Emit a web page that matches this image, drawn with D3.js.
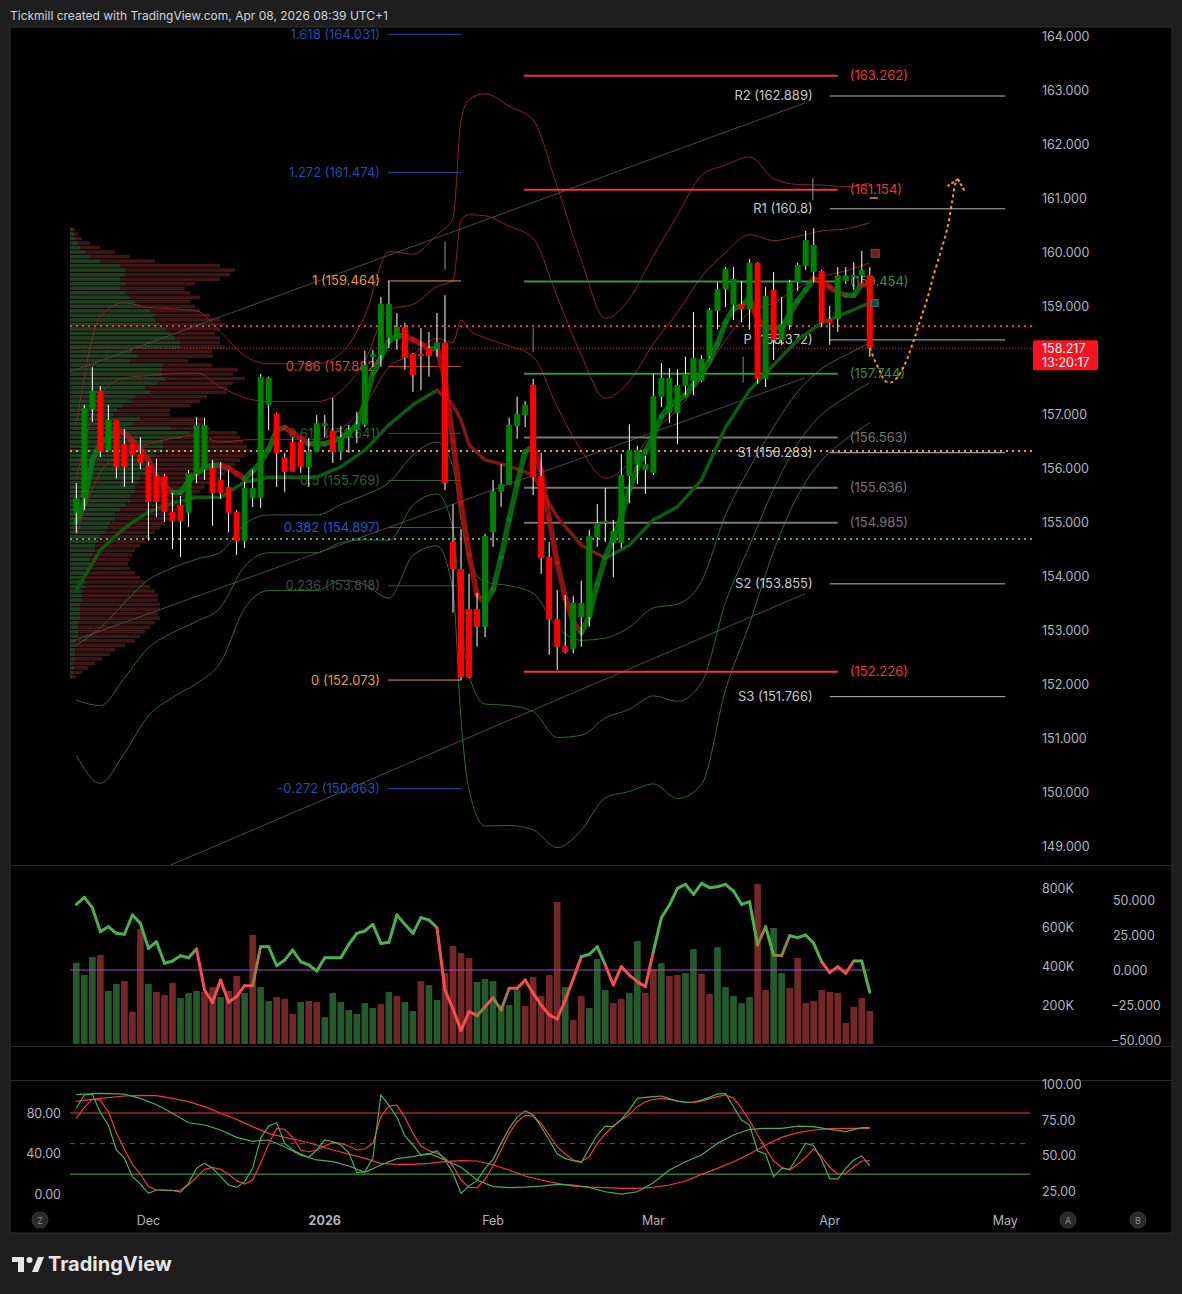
<!DOCTYPE html>
<html><head><meta charset="utf-8">
<script src="https://cdn.jsdelivr.net/npm/d3@7"></script>
<style>body{margin:0;background:#1e1e1e;}svg{display:block;font-family:Inter,"Liberation Sans",sans-serif;}</style>
</head><body><svg id="c" width="1182" height="1294"></svg>
<script>
// ---------------- DATA ----------------
const firstIdx = -9; // bar index of first candle (Dec 1 = 0)
const opens = [155.17,155.44,157.09,157.43,156.33,156.89,156.44,156.44,156.26,156.04,155.85,155.85,155.19,155.31,155.17,155.89,155.96,156.00,155.78,155.65,155.19,154.65,155.44,155.44,157.17,157.00,156.20,156.48,156.48,156.02,156.30,156.78,156.69,156.30,156.57,156.70,156.80,158.06,158.09,158.41,158.39,158.61,158.11,158.11,158.22,158.20,158.32,154.63,154.13,153.39,153.39,153.06,154.81,155.56,155.69,156.78,156.98,157.54,155.85,154.35,153.20,152.70,152.65,153.24,153.24,154.72,154.98,154.61,154.61,155.85,156.06,155.96,155.91,157.32,157.02,157.02,157.52,157.61,157.61,158.06,158.91,159.31,159.02,159.04,158.94,159.80,157.65,159.30,158.37,158.65,159.44,159.74,159.63,159.65,158.76,158.76,159.46,159.54,159.57,159.57];
const highs = [155.72,157.17,157.87,157.52,157.17,156.89,156.72,156.44,156.57,156.11,156.17,155.89,155.54,155.48,155.96,156.94,156.93,156.15,156.11,155.96,155.22,155.74,155.96,157.74,157.69,157.02,156.28,156.57,156.52,156.56,156.98,156.98,157.30,156.78,156.80,157.04,158.17,158.19,159.17,159.464,158.87,158.69,158.13,158.59,158.52,158.87,159.20,155.33,154.87,154.04,153.69,154.78,155.78,156.07,156.93,157.32,157.24,157.65,156.28,154.63,153.74,153.65,153.63,153.91,154.85,155.33,155.63,155.04,156.26,156.81,156.41,156.22,157.74,157.94,157.85,157.83,158.06,158.89,158.09,158.96,159.44,159.72,159.72,159.46,159.87,159.81,159.35,159.63,159.17,159.48,159.80,160.39,160.44,159.67,159.00,159.72,159.72,159.81,160.02,159.72];
const lows = [154.80,155.22,156.85,156.20,156.33,155.81,155.65,155.72,155.98,154.65,155.09,155.00,154.50,154.35,154.91,155.72,155.78,154.93,155.43,154.81,154.39,154.52,155.28,155.26,156.70,155.65,155.56,155.93,155.91,155.65,156.30,156.57,156.09,156.15,156.28,156.46,156.76,157.87,157.87,158.22,158.19,157.82,157.41,157.44,157.69,158.06,155.59,153.32,152.07,152.11,152.69,152.87,154.54,155.28,155.69,156.54,156.76,155.50,154.04,152.54,152.26,152.57,152.57,152.69,153.06,154.54,154.63,153.98,154.52,155.35,155.70,155.52,155.87,157.13,156.83,156.44,157.35,157.35,157.59,158.04,158.57,158.98,158.74,158.70,158.56,157.56,157.50,158.00,158.28,158.56,159.28,159.67,159.44,158.61,158.28,158.52,159.41,159.30,159.43,158.06];
const closes = [155.44,157.11,157.43,156.30,156.89,156.02,156.02,156.24,156.09,155.37,155.37,155.19,155.02,155.02,155.91,156.80,156.80,155.54,155.54,155.17,154.65,155.63,155.63,157.69,157.67,156.28,155.93,155.93,156.02,156.31,156.83,156.83,156.30,156.57,156.72,156.81,157.91,158.11,159.04,159.04,158.61,158.04,157.72,158.07,158.07,158.32,155.72,154.13,152.13,152.13,153.06,154.74,155.57,155.70,156.80,157.00,157.17,155.83,154.33,153.20,152.69,152.59,153.50,153.50,154.74,154.98,155.02,154.83,155.87,156.33,156.33,156.07,157.33,157.67,157.67,157.54,157.74,158.04,158.02,158.93,159.31,159.69,159.50,158.94,159.80,157.65,159.19,158.37,158.67,159.44,159.76,160.22,160.13,158.69,158.69,159.57,159.57,159.57,159.67,158.217];

// fast moving average (thick, coloured by direction)
const fastMA = [155.0,155.35,156.15,156.45,156.55,156.70,156.65,156.50,156.35,156.15,155.85,155.65,155.55,155.55,155.75,155.90,156.00,156.05,156.05,156.00,155.90,155.80,155.95,156.10,156.35,156.70,156.75,156.65,156.55,156.45,156.45,156.45,156.50,156.55,156.65,156.80,157.20,157.75,158.05,158.35,158.45,158.45,158.38,158.30,158.20,158.22,157.65,156.50,155.35,154.40,153.65,153.50,153.75,154.35,155.05,155.70,156.30,156.40,155.95,155.05,154.25,153.60,153.15,152.95,153.25,153.85,154.35,154.70,155.10,155.60,156.00,156.30,156.60,156.95,157.15,157.25,157.35,157.55,157.75,158.00,158.30,158.70,158.95,159.00,159.15,158.75,158.60,158.60,158.60,158.85,159.10,159.30,159.50,159.45,159.35,159.25,159.20,159.20,159.40,159.38];

// band basis (slow MA) and deviation, read at sampled bars
const bandIdx = [-9,-6,-3,0,3,6,9,12,15,18,21,24,27,30,33,36,38,39,40,42,45,48,51,54,57,60,63,66,69,72,75,78,81,84,87,90];
const bandMid = [153.74,154.48,154.89,155.19,155.35,155.46,155.46,155.74,155.83,155.83,155.83,156.02,156.33,156.80,157.17,157.44,157.17,156.89,156.43,156.15,156.04,155.87,155.09,154.57,154.33,154.57,155.04,155.28,155.78,156.75,157.44,157.91,158.37,158.69,158.87,159.06];
const bandDev = [1.02,1.44,1.39,1.26,1.20,1.15,1.02,0.78,0.70,0.70,0.70,0.70,0.83,1.07,0.93,0.96,1.15,1.85,2.13,2.26,2.22,2.19,2.04,1.76,1.48,1.52,1.63,1.80,1.88,1.62,1.44,1.15,0.96,0.85,0.78,0.74];
const bandMults = [1,2,3];

// volume profile (rows from top price to bottom price), lengths in profile units
const profTop = 160.45, profBottom = 152.08;
const profGreen = [3,4,6,8,10,15,20,30,50,55,55,50,55,50,55,60,65,70,80,85,85,90,95,100,105,110,110,62,68,60,92,92,92,95,87,75,80,65,62,53,47,43,70,63,100,120,112,93,93,93,85,80,80,75,75,70,68,65,65,60,60,55,50,45,45,40,38,35,30,28,25,25,22,20,20,18,18,15,15,15,12,12,12,10,10,10,10,8,8,8,8,6,6,5,5,5,4,4,3,2];
const profTotal = [5,8,12,20,30,45,60,85,150,165,160,150,125,115,120,130,120,125,130,140,150,155,150,145,150,150,155,142,143,118,142,168,163,175,163,157,157,137,130,120,100,100,133,133,140,167,170,173,177,180,175,170,165,160,155,150,140,135,130,125,120,115,110,105,100,95,90,85,80,75,70,65,62,60,58,60,65,70,75,80,85,88,88,90,90,88,90,85,80,75,70,65,55,45,40,32,25,18,12,6];

// volume (thousands) and its colour direction
const volumes = [417,354,446,456,272,308,323,166,590,308,267,251,313,236,262,272,267,292,241,272,349,262,559,292,221,241,231,154,215,221,215,138,262,215,174,154,210,185,205,267,246,215,169,323,303,226,364,503,467,441,318,333,323,200,200,277,195,344,246,354,728,292,123,246,185,436,277,210,231,262,528,262,385,415,349,354,364,487,359,256,497,292,246,210,241,821,277,595,364,287,441,210,221,277,267,262,108,190,236,169];
const volDir = "uuuduuddduddduuuddudduduudddudduuuuuuududuuduudddduuuuuudddddudduuudduuddudduudduuuuudduudddd";
// oscillator in volume pane
const osc = [46.9,51.9,44.5,27.4,30.9,26.2,25.5,39.3,33.3,15.5,20.2,4.8,6.4,10.2,8.8,15.0,-14.3,-23.1,-7.1,-23.1,-19.0,-11.2,-11.2,16.6,16.6,3.1,7.1,14.3,5.9,3.6,-0.7,8.8,8.8,8.8,18.3,26.2,27.9,32.6,19.0,19.8,39.3,32.6,26.2,37.4,35.7,30.2,-14.3,-27.9,-43.3,-29.8,-32.6,-26.2,-19.8,-28.6,-13.1,-13.1,-7.1,-16.7,-25.0,-32.1,-35.0,-21.4,-6.4,9.5,11.2,16.6,3.6,-10.7,2.4,-3.6,-8.3,-11.9,13.1,37.4,46.4,58.3,61.2,54.0,61.9,58.8,59.5,61.2,56.4,46.9,48.8,17.9,30.9,10.7,10.2,24.5,23.1,25.0,19.0,5.9,-1.9,2.4,-2.4,6.4,6.4,-15.9];
// colour of the segment ending at each bar (g green, r red, b brown)
const oscCol = "-gggggggggggggggrrrrrrrbggggggggggggggggggggggrrrrrbrbbrrrrrrrrrgggrrrrrrgggggggggggggbgbbggggrrrrggr";

// stochastic pane
const stochK = [84.6,97.7,98.6,80.3,68.2,43.7,35.5,17.5,10.3,1.1,4.4,4.4,4.0,2.4,10.9,25.7,30.6,25.7,17.5,9.3,7.0,12.6,25.7,55.1,67.2,70.4,50.2,43.7,39.7,36.5,43.7,53.5,51.8,48.6,41.0,21.4,22.4,35.5,97.7,87.8,75.7,57.4,48.6,38.7,39.7,43.0,33.9,20.8,1.0,8.3,13.6,25.7,34.5,50.2,64.9,75.7,82.3,78.0,66.6,53.5,39.7,35.2,33.2,31.3,45.3,58.4,67.2,66.6,73.7,83.0,94.4,95.3,96.0,96.7,94.1,91.7,90.4,90.8,92.7,95.3,98.6,99.3,86.2,73.1,68.2,43.0,39.7,17.5,25.7,24.7,37.1,50.2,48.2,33.9,15.6,15.2,25.7,33.9,37.8,28.0];
const stochD = [74.7,85.6,93.4,92.7,81.3,60.7,44.3,29.6,20.1,7.7,4.4,4.0,3.7,4.4,9.3,16.9,24.7,26.7,24.7,19.8,13.6,10.3,14.2,30.6,49.6,64.9,64.0,56.1,43.7,42.0,43.7,47.6,51.2,50.2,47.6,43.7,44.9,50.2,76.4,86.9,87.8,75.7,60.0,47.6,43.0,40.4,35.5,28.0,14.2,7.0,6.7,14.9,28.0,43.7,60.0,71.4,77.7,77.0,69.8,58.4,46.9,39.7,33.9,32.2,37.1,50.2,59.4,67.2,73.1,78.7,86.2,91.1,93.4,94.4,93.4,91.7,90.8,90.1,91.7,94.1,96.0,97.7,94.4,84.6,72.4,58.4,45.3,32.9,26.7,24.0,29.6,36.5,44.9,37.1,26.7,20.1,20.8,27.3,32.9,33.2];
const slowIdx = [-9,-6,-3,-1,1,3,5,7,9,11,13,15,17,19,21,23,25,27,29,31,33,35,37,39,41,43,45,47,49,51,53,55,57,59,61,63,65,67,69,71,73,75,77,79,81,83,85,87,89,90];
const slowK = [98.0,99.3,98.6,94.4,88.1,79.7,70.4,68.2,63.3,56.1,52.2,53.5,46.9,38.7,33.9,32.2,28.0,21.7,29.0,35.2,37.1,40.4,33.9,26.7,14.2,7.7,6.7,7.3,8.3,10.0,9.3,7.0,2.7,0.3,2.7,11.6,24.0,32.2,38.7,50.2,58.4,64.0,64.9,64.9,67.2,66.6,64.0,61.7,65.6,65.6];
const slowD = [91.4,94.4,96.7,97.3,97.0,94.4,91.1,86.2,79.7,73.7,66.6,60.0,56.1,52.8,48.6,43.7,39.7,35.5,30.6,29.6,29.6,30.6,32.2,33.2,32.9,29.0,24.0,18.2,14.2,10.9,8.3,7.3,6.7,6.0,6.0,7.0,9.3,13.2,19.8,25.7,32.2,39.7,48.6,56.1,60.7,63.3,64.6,64.9,64.9,64.9];

// axes / labels
const priceTicks = [149,150,151,152,153,154,155,156,157,158,159,160,161,162,163,164];
const timeLabels = ["Dec","2026","Feb","Mar","Apr","May"];
const timeIdx = [0,22,43,63,85,106.9];
const volTicks = [200,400,600,800];
const oscTicks = [50,25,0,-25,-50];
const stochLeftTicks = [80,40,0];
const stochRightTicks = [100,75,50,25];

// drawings
const fibLevels = ["1.618","1.272","1","0.786","0.618","0.5","0.382","0.236","0","-0.272"];
const fibPrices = [164.031,161.474,159.464,157.882,156.641,155.769,154.897,153.818,152.073,150.063];
const fibColors = ["#1f4fb0","#1f4fb0","#e89a2c","#d9463f","#2f5f2f","#365f36","#2458c8","#4a4a4a","#e89a2c","#1f4fb0"];
const fibRange = [29.9, 39.0];
const levelPrices = [163.262,161.154,159.454,157.744,156.563,155.636,154.985,152.226];
const levelColors = ["#f0333f","#f0333f","#3f8f3f","#3f8f3f","#777777","#777777","#777777","#f0333f"];
const levelRange = [46.86, 86.0];
const pivotNames = ["R2","R1","P","S1","S2","S3"];
const pivotPrices = [162.889,160.8,158.372,156.283,153.855,151.766];
const pivotLabels = ["162.889","160.8","158.372","156.283","153.855","151.766"];
const pivotRange = [85.0, 106.9];
const dottedPrices = [158.63,156.315,154.686];
const dottedColors = ["#f0333f","#f59a13","#4caf50"];
const lastPrice = 158.217;
const lastTime = "13:20:17";
const channelLines = [[[-9.79,157.78],[81.9,162.76]],[[-9.79,152.78],[81.9,157.67]],[[-9.79,147.85],[81.9,153.67]]];
const projection = [[90.0,158.22],[90.6,158.0],[91.3,157.78],[91.9,157.61],[92.8,157.59],[93.8,157.76],[94.6,158.0],[95.4,158.33],[96.3,158.74],[97.2,159.15],[97.9,159.54],[98.8,159.98],[99.7,160.46],[100.3,160.96],[100.7,161.28],[101.0,161.35]];
const arrowHead = [[[101.0,161.35],[101.9,161.11]],[[101.0,161.35],[99.7,161.22]]];
// thin vertical marks drawn on the chart [bar, price from, price to, colour]
const vMarks = [[37.0,160.19,159.67,"#9a9a9a"],[82.9,161.37,160.96,"#9a9a9a"],[48.0,158.59,158.15,"#8a8a8a"],[74.2,158.06,157.58,"#3aa58f"]];

// ---------------- SCALES ----------------
const svg = d3.select("#c");
const x = d3.scaleLinear().domain([-9, 90]).range([76.3, 869.8]);
const yP = d3.scaleLinear().domain([149, 164]).range([846, 36]);
const yV = d3.scaleLinear().domain([0, 800]).range([1044, 888]);
const yO = d3.scaleLinear().domain([-50, 50]).range([1040, 900]);
const yS = d3.scaleLinear().domain([0, 80]).range([1194.5, 1113]);
const yS2 = d3.scaleLinear().domain([25, 100]).range([1191, 1084.5]);
const xProf = d3.scaleLinear().domain([0, 175]).range([70, 245]);
const idx = d3.range(opens.length).map(i => i + firstIdx);
const FONT = 12.5, LBL = 13, TXT = "#b2b5be";

// ---------------- FRAME ----------------
svg.append("rect").attr("width",1182).attr("height",1294).attr("fill","#1e1e1e");
svg.append("rect").attr("x",10).attr("y",27).attr("width",1162).attr("height",1206).attr("fill","#000").attr("stroke","#303030");
svg.append("text").attr("x",10).attr("y",19.5).attr("fill","#d1d4dc").attr("font-size",12).text("Tickmill created with TradingView.com, Apr 08, 2026 08:39 UTC+1");
[865.5,1046.5,1080.5].forEach(v => svg.append("line").attr("x1",10).attr("x2",1172).attr("y1",v).attr("y2",v).attr("stroke","#2a2a2a"));

const defs = svg.append("defs");
defs.append("clipPath").attr("id","mainclip").append("rect").attr("x",69).attr("y",28).attr("width",966).attr("height",837);
defs.append("clipPath").attr("id","volclip").append("rect").attr("x",69).attr("y",866).attr("width",966).attr("height",180);
defs.append("clipPath").attr("id","stclip").append("rect").attr("x",69).attr("y",1081).attr("width",966).attr("height",125);

const main = svg.append("g").attr("clip-path","url(#mainclip)");

// volume profile
const nRows = profTotal.length;
const rowH = (yP(profBottom) - yP(profTop)) / nRows;
profTotal.forEach((t, i) => {
  const yy = yP(profTop) + i * rowH;
  main.append("rect").attr("x", xProf(0)).attr("y", yy).attr("width", xProf(t) - xProf(0)).attr("height", rowH - 1).attr("fill", "#4a1a1a").attr("opacity",0.85);
  main.append("rect").attr("x", xProf(0)).attr("y", yy).attr("width", xProf(profGreen[i]) - xProf(0)).attr("height", rowH - 1).attr("fill", "#1d4424").attr("opacity",0.9);
});

// channel lines
channelLines.forEach(l => main.append("line").attr("x1",x(l[0][0])).attr("y1",yP(l[0][1])).attr("x2",x(l[1][0])).attr("y2",yP(l[1][1])).attr("stroke","#4a4a4a").attr("stroke-width",1));

// bands
const bandPts = bandIdx.map((b, i) => ({i: b, m: bandMid[i], d: bandDev[i]}));
const bandLine = k => d3.line().x(p => x(p.i)).y(p => yP(p.m + k * p.d)).curve(d3.curveMonotoneX);
bandMults.forEach(k => {
  main.append("path").attr("d", bandLine(k)(bandPts)).attr("fill","none").attr("stroke","#8a2525").attr("stroke-width",1);
  main.append("path").attr("d", bandLine(-k)(bandPts)).attr("fill","none").attr("stroke","#2f6a2f").attr("stroke-width",1);
});

// dotted horizontal lines
dottedPrices.forEach((p, i) => main.append("line").attr("x1",70).attr("x2",1035).attr("y1",yP(p)).attr("y2",yP(p)).attr("stroke",dottedColors[i]).attr("stroke-width",2).attr("stroke-dasharray","2,4"));
main.append("line").attr("x1",70).attr("x2",1035).attr("y1",yP(lastPrice)).attr("y2",yP(lastPrice)).attr("stroke","#f0333f").attr("stroke-width",1).attr("stroke-dasharray","1,2").attr("opacity",0.8);

// fib levels
fibPrices.forEach((p, i) => {
  main.append("line").attr("x1",x(fibRange[0])).attr("x2",x(fibRange[1])).attr("y1",yP(p)).attr("y2",yP(p)).attr("stroke",fibColors[i]).attr("stroke-width",1);
  main.append("text").attr("x",x(fibRange[0]) - 8).attr("y",yP(p) + 4.5).attr("text-anchor","end").attr("fill",fibColors[i]).attr("font-size",LBL).text(`${fibLevels[i]} (${p.toFixed(3)})`);
});
// price levels
levelPrices.forEach((p, i) => {
  main.append("line").attr("x1",x(levelRange[0])).attr("x2",x(levelRange[1])).attr("y1",yP(p)).attr("y2",yP(p)).attr("stroke",levelColors[i]).attr("stroke-width",2);
  main.append("text").attr("x",x(levelRange[1]) + 12).attr("y",yP(p) + 4.5).attr("fill",levelColors[i]).attr("font-size",LBL).text(`(${p.toFixed(3)})`);
});
// pivots
pivotPrices.forEach((p, i) => {
  main.append("line").attr("x1",x(pivotRange[0])).attr("x2",x(pivotRange[1])).attr("y1",yP(p)).attr("y2",yP(p)).attr("stroke","#b8b8b8").attr("stroke-width",1);
  main.append("text").attr("x",x(pivotRange[0]) - 17).attr("y",yP(p) + 4.5).attr("text-anchor","end").attr("fill","#c8c8c8").attr("font-size",LBL).text(`${pivotNames[i]} (${pivotLabels[i]})`);
});

// slow MA (band basis), coloured by direction
for (let i = 1; i < bandPts.length; i++) {
  const a = bandPts[i-1], b = bandPts[i];
  main.append("line").attr("x1",x(a.i)).attr("y1",yP(a.m)).attr("x2",x(b.i)).attr("y2",yP(b.m))
    .attr("stroke", b.m >= a.m ? "#0e5a12" : "#7e1717").attr("stroke-width",3.5).attr("stroke-linecap","round");
}
// fast MA
for (let i = 1; i < fastMA.length; i++) {
  main.append("line").attr("x1",x(idx[i-1])).attr("y1",yP(fastMA[i-1])).attr("x2",x(idx[i])).attr("y2",yP(fastMA[i]))
    .attr("stroke", fastMA[i] >= fastMA[i-1] ? "#0b7d12" : "#b81414").attr("stroke-width",5.5).attr("stroke-linecap","round").attr("opacity",0.8);
}

// vertical marks
vMarks.forEach(m => main.append("line").attr("x1",x(m[0])).attr("x2",x(m[0])).attr("y1",yP(m[1])).attr("y2",yP(m[2])).attr("stroke",m[3]).attr("stroke-width",1));

// candles
const bw = 6;
idx.forEach((b, i) => {
  const up = closes[i] >= opens[i];
  main.append("line").attr("x1",x(b)).attr("x2",x(b)).attr("y1",yP(highs[i])).attr("y2",yP(lows[i])).attr("stroke","#ffffff").attr("stroke-width",1);
  const top = yP(Math.max(opens[i], closes[i])), bot = yP(Math.min(opens[i], closes[i]));
  main.append("rect").attr("x",x(b) - bw/2).attr("y",top).attr("width",bw).attr("height",Math.max(1.5, bot - top)).attr("fill", up ? "#008000" : "#ff0000");
});

// small markers
main.append("rect").attr("x",x(90.3)-1).attr("y",yP(160.05)).attr("width",8).attr("height",8).attr("fill","#6a2424").attr("stroke","#b13030");
main.append("rect").attr("x",x(90.3)-1).attr("y",yP(159.12)).attr("width",7).attr("height",7).attr("fill","#1b4a45").attr("stroke","#2a7a70");
main.append("line").attr("x1",x(90.0)).attr("x2",x(91.0)).attr("y1",yP(161.0)).attr("y2",yP(161.0)).attr("stroke","#f59a13").attr("stroke-width",1.5);

// projection
main.append("path").attr("d", d3.line().x(p => x(p[0])).y(p => yP(p[1])).curve(d3.curveCatmullRom)(projection))
  .attr("fill","none").attr("stroke","#f59a13").attr("stroke-width",2).attr("stroke-dasharray","3,3");
arrowHead.forEach(l => main.append("line").attr("x1",x(l[0][0])).attr("y1",yP(l[0][1])).attr("x2",x(l[1][0])).attr("y2",yP(l[1][1])).attr("stroke","#f59a13").attr("stroke-width",2).attr("stroke-dasharray","3,2"));

// price axis (ticks hidden under the last-price tag are skipped, as in the original)
priceTicks.filter(t => Math.abs(yP(t) - (yP(lastPrice) + 7)) > 18)
  .forEach(t => svg.append("text").attr("x",1042).attr("y",yP(t) + 4.5).attr("fill",TXT).attr("font-size",FONT).text(t.toFixed(3)));
svg.append("rect").attr("x",1033).attr("y",yP(lastPrice) - 8).attr("width",65).attr("height",30).attr("rx",2).attr("fill","#f7131f");
svg.append("text").attr("x",1042).attr("y",yP(lastPrice) + 5).attr("fill","#fff").attr("font-size",FONT).text(lastPrice.toFixed(3));
svg.append("text").attr("x",1042).attr("y",yP(lastPrice) + 18.5).attr("fill","#fff").attr("font-size",FONT).text(lastTime);

// ---------------- VOLUME PANE ----------------
const vol = svg.append("g").attr("clip-path","url(#volclip)");
volumes.forEach((v, i) => {
  vol.append("rect").attr("x", x(idx[i]) - 3.3).attr("y", yV(v)).attr("width", 6.6).attr("height", yV(0) - yV(v))
    .attr("fill", volDir[i] === "u" ? "#255a2c" : "#752727");
});
vol.append("line").attr("x1",70).attr("x2",870).attr("y1",yO(0)).attr("y2",yO(0)).attr("stroke","#a64bbf").attr("stroke-width",1);
const oscColors = {g:"#4cb050", r:"#f25050", b:"#9c7b45"};
for (let i = 1; i < osc.length; i++) {
  vol.append("line").attr("x1",x(idx[i-1])).attr("y1",yO(osc[i-1])).attr("x2",x(idx[i])).attr("y2",yO(osc[i]))
    .attr("stroke", oscColors[oscCol[i]]).attr("stroke-width",3).attr("stroke-linecap","round");
}
volTicks.forEach(t => svg.append("text").attr("x",1042).attr("y",yV(t) + 4.5).attr("fill",TXT).attr("font-size",FONT).text(t + "K"));
oscTicks.forEach(t => svg.append("text").attr("x", t < 0 ? 1111 : 1113).attr("y",yO(t) + 4.5).attr("fill",TXT).attr("font-size",FONT).text((t < 0 ? "\u2212" + Math.abs(t) : t).toString() + ".000"));

// ---------------- STOCH PANE ----------------
const st = svg.append("g").attr("clip-path","url(#stclip)");
st.append("line").attr("x1",70).attr("x2",1030).attr("y1",yS(80)).attr("y2",yS(80)).attr("stroke","#f23645").attr("stroke-width",1);
st.append("line").attr("x1",70).attr("x2",1030).attr("y1",yS(20)).attr("y2",yS(20)).attr("stroke","#4caf50").attr("stroke-width",1);
st.append("line").attr("x1",70).attr("x2",1030).attr("y1",yS(50)).attr("y2",yS(50)).attr("stroke","#555").attr("stroke-width",1).attr("stroke-dasharray","5,5");
const ln = d3.line().x(d => x(d[0])).y(d => yS(d[1]));
st.append("path").attr("d", ln(slowIdx.map((b,i)=>[b, slowD[i]]))).attr("fill","none").attr("stroke","#f23645").attr("stroke-width",1.2);
st.append("path").attr("d", ln(slowIdx.map((b,i)=>[b, slowK[i]]))).attr("fill","none").attr("stroke","#4caf50").attr("stroke-width",1.2);
st.append("path").attr("d", ln(idx.map((b,i)=>[b, stochD[i]]))).attr("fill","none").attr("stroke","#f23645").attr("stroke-width",1.2);
st.append("path").attr("d", ln(idx.map((b,i)=>[b, stochK[i]]))).attr("fill","none").attr("stroke","#4caf50").attr("stroke-width",1.2);
stochLeftTicks.forEach(t => svg.append("text").attr("x",61).attr("y",yS(t) + 4.5).attr("text-anchor","end").attr("fill",TXT).attr("font-size",FONT).text(t.toFixed(2)));
stochRightTicks.forEach(t => svg.append("text").attr("x",1042).attr("y",yS2(t) + 4.5).attr("fill",TXT).attr("font-size",FONT).text(t.toFixed(2)));

// ---------------- TIME AXIS ----------------
timeLabels.forEach((l, i) => svg.append("text").attr("x", x(timeIdx[i])).attr("y", 1224.5).attr("text-anchor","middle")
  .attr("fill", TXT).attr("font-size", FONT).attr("font-weight", l === "2026" ? "bold" : "normal").text(l));
[["Z",40],["A",1068],["B",1138]].forEach(([t, cx]) => {
  svg.append("circle").attr("cx",cx).attr("cy",1220).attr("r",8).attr("fill","#2a2a2a").attr("stroke","#3a3a3a");
  svg.append("text").attr("x",cx).attr("y",1223.5).attr("text-anchor","middle").attr("fill","#8a8a8a").attr("font-size",9).text(t);
});

// ---------------- LOGO ----------------
const logo = svg.append("g").attr("fill","#e6e6e6");
logo.append("rect").attr("x",12).attr("y",1257).attr("width",12).attr("height",5);
logo.append("rect").attr("x",18).attr("y",1257).attr("width",6).attr("height",15);
logo.append("circle").attr("cx",29.5).attr("cy",1260).attr("r",3);
logo.append("polygon").attr("points","32,1272 38,1257 44,1257 38,1272");
svg.append("text").attr("x",48).attr("y",1271).attr("fill","#e6e6e6").attr("font-size",20).attr("font-weight","bold").text("TradingView");
</script></body></html>
